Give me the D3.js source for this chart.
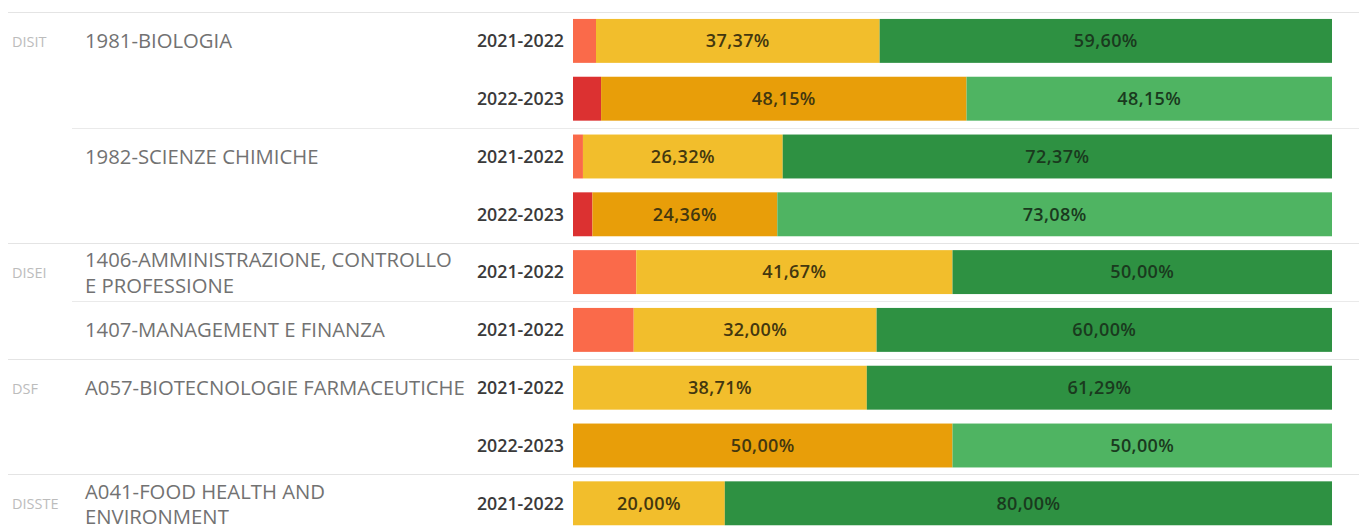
<!DOCTYPE html>
<html>
<head>
<meta charset="utf-8">
<script src="https://cdn.jsdelivr.net/npm/d3@7"></script>
<style>
  html, body { margin: 0; padding: 0; background: #ffffff; }
  svg { display: block; }
</style>
</head>
<body>
<svg id="chart" width="1359" height="529"></svg>
<script>
// ---- data ----
const departments = ["DISIT", "DISIT", "DISIT", "DISIT", "DISEI", "DISEI", "DSF", "DSF", "DISSTE"];
const courses = [
  "1981-BIOLOGIA", "1981-BIOLOGIA",
  "1982-SCIENZE CHIMICHE", "1982-SCIENZE CHIMICHE",
  "1406-AMMINISTRAZIONE, CONTROLLO|E PROFESSIONE",
  "1407-MANAGEMENT E FINANZA",
  "A057-BIOTECNOLOGIE FARMACEUTICHE", "A057-BIOTECNOLOGIE FARMACEUTICHE",
  "A041-FOOD HEALTH AND|ENVIRONMENT"
];
const years = ["2021-2022", "2022-2023", "2021-2022", "2022-2023", "2021-2022", "2021-2022", "2021-2022", "2022-2023", "2021-2022"];
const lowValues  = [3.03, 3.70, 1.31, 2.56, 8.33, 8.00, 0, 0, 0];
const midValues  = [37.37, 48.15, 26.32, 24.36, 41.67, 32.00, 38.71, 50.00, 20.00];
const highValues = [59.60, 48.15, 72.37, 73.08, 50.00, 60.00, 61.29, 50.00, 80.00];

const colors = {
  "2021-2022": ["#fa6a4a", "#f2be2c", "#2e9142"],
  "2022-2023": ["#dc3131", "#e89e09", "#4fb462"]
};

// ---- layout ----
const svg = d3.select("#chart");
const rowIdx = d3.range(years.length);
const top0 = 12, rowH = 57.8;
const y = d3.scaleBand().domain(rowIdx).range([top0, top0 + rowH * rowIdx.length])
  .paddingInner(0.24).paddingOuter(0.12);
const x = d3.scaleLinear().domain([0, 100]).range([573, 1332]);

const fmt = v => d3.format(".2f")(v).replace(".", ",") + "%";

// divider lines
const lines = svg.append("g");
lines.append("line").attr("x1", 8).attr("x2", 1359).attr("y1", top0 + 0.5).attr("y2", top0 + 0.5)
  .attr("stroke", "#e4e4e4").attr("stroke-width", 1);
rowIdx.forEach(i => {
  if (i === 0) return;
  const yy = Math.round(top0 + rowH * i) + 0.5;
  if (departments[i] !== departments[i - 1]) {
    lines.append("line").attr("x1", 8).attr("x2", 1359).attr("y1", yy).attr("y2", yy)
      .attr("stroke", "#e4e4e4");
  } else if (courses[i] !== courses[i - 1]) {
    lines.append("line").attr("x1", 72).attr("x2", 1359).attr("y1", yy).attr("y2", yy)
      .attr("stroke", "#eaeaea");
  }
});

// bars
const stackData = rowIdx.map(i => {
  const segs = [lowValues[i], midValues[i], highValues[i]];
  let acc = 0;
  return segs.map((v, k) => {
    const s = { row: i, k, x0: acc, x1: acc + v, v };
    acc += v;
    return s;
  });
}).flat();

const g = svg.append("g");
g.selectAll("rect").data(stackData.filter(d => d.v > 0)).join("rect")
  .attr("x", d => x(d.x0))
  .attr("width", d => x(d.x1) - x(d.x0))
  .attr("y", d => y(d.row))
  .attr("height", y.bandwidth())
  .attr("fill", d => colors[years[d.row]][d.k]);

g.selectAll("text.val").data(stackData.filter(d => d.k > 0 && d.v > 0)).join("text")
  .attr("class", "val")
  .attr("x", d => (x(d.x0) + x(d.x1)) / 2)
  .attr("y", d => y(d.row) + y.bandwidth() / 2)
  .attr("dy", "0.35em")
  .attr("text-anchor", "middle")
  .attr("font-family", "'Open Sans', sans-serif")
  .attr("font-size", 18)
  .attr("font-weight", 600)
  .attr("letter-spacing", 0.4)
  .attr("fill", d => d.k === 2 ? "#1a3a1e" : "#43370f")
  .text(d => fmt(d.v));

// row labels
const labels = svg.append("g").attr("font-family", "'Open Sans', sans-serif");
rowIdx.forEach(i => {
  const cy = y(i) + y.bandwidth() / 2;
  labels.append("text")
    .attr("x", 564).attr("y", cy).attr("dy", "0.35em")
    .attr("text-anchor", "end").attr("font-size", 17.8).attr("font-weight", 600)
    .attr("fill", "#3a3a3a").text(years[i]);
  if (i === 0 || departments[i] !== departments[i - 1]) {
    labels.append("text")
      .attr("x", 12).attr("y", cy + 1).attr("dy", "0.35em")
      .attr("font-size", 14.5).attr("fill", "#bcbcbc").text(departments[i]);
  }
  if (i === 0 || courses[i] !== courses[i - 1]) {
    const parts = courses[i].split("|");
    const lh = 25.5;
    parts.forEach((p, j) => {
      labels.append("text")
        .attr("x", 85).attr("y", cy + (parts.length > 1 ? 1 : 0) + (j - (parts.length - 1) / 2) * lh).attr("dy", "0.35em")
        .attr("font-size", 20.3).attr("fill", "#727272").text(p);
    });
  }
});
</script>
</body>
</html>
